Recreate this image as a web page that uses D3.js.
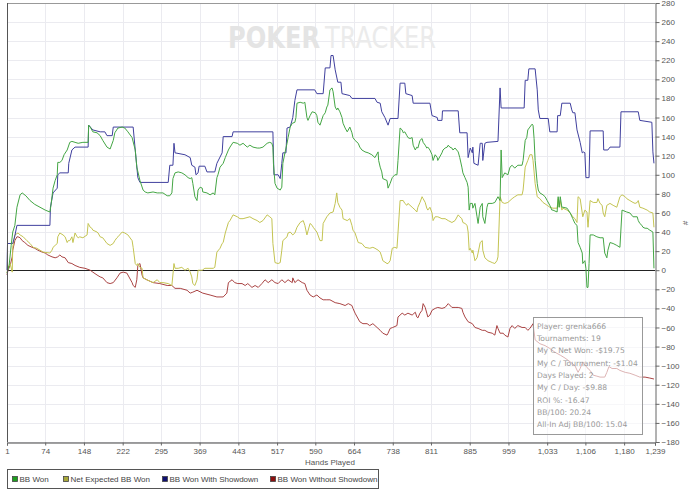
<!DOCTYPE html>
<html><head><meta charset="utf-8">
<script src="https://cdn.jsdelivr.net/npm/d3@7"></script>
<style>html,body{margin:0;padding:0;background:#fff;}svg{display:block;}</style>
</head><body><svg id="c" width="700" height="497"></svg>
<script>
const xTicks = [1,74,148,222,295,369,443,517,590,664,738,811,885,959,1033,1106,1180,1239];
const yTicks = d3.range(-180, 281, 20);
const seriesNames = ["BB Won","Net Expected BB Won","BB Won With Showdown","BB Won Without Showdown"];
const infoLines = ["Player: grenka666","Tournaments: 19","My C Net Won: -$19.75","My C / Tournament: -$1.04","Days Played: 2","My C / Day: -$9.88","ROI %: -16.47","BB/100: 20.24","All-In Adj BB/100: 15.04"];

const bbWon = [[1,-3],[5,5],[9,26],[12,40],[16,47],[20,66],[26,79],[30,81],[37,78],[45,73],[54,69],[64,66],[74,63],[83,61],[85,68],[89,86],[93,94],[97,100],[98,113],[102,113],[106,115],[110,121],[116,126],[121,134],[125,135],[131,134],[137,133],[146,134],[156,134],[157,152],[160,150],[165,145],[173,144],[179,141],[184,136],[192,129],[198,127],[204,136],[207,144],[213,149],[221,150],[226,149],[232,145],[240,139],[246,126],[249,108],[255,94],[261,84],[265,82],[270,81],[280,82],[288,81],[293,81],[299,81],[307,78],[312,78],[316,81],[318,96],[322,102],[328,103],[335,102],[341,100],[347,97],[351,96],[354,97],[356,91],[360,77],[364,73],[366,84],[370,87],[374,86],[375,82],[383,81],[389,79],[395,81],[398,79],[402,97],[404,100],[408,108],[414,112],[418,118],[424,126],[427,129],[433,134],[441,133],[446,131],[452,133],[460,129],[465,131],[471,129],[479,128],[484,128],[490,129],[498,133],[503,134],[507,133],[509,129],[510,112],[513,91],[517,86],[523,84],[526,87],[528,112],[532,123],[536,133],[538,139],[542,150],[546,154],[551,155],[553,160],[555,175],[561,176],[567,175],[570,176],[574,160],[576,157],[580,162],[584,166],[590,165],[593,162],[595,155],[599,152],[605,162],[609,165],[612,171],[614,173],[618,189],[622,191],[624,187],[628,171],[631,168],[633,170],[637,166],[641,160],[643,154],[647,149],[651,145],[656,150],[660,144],[662,139],[666,136],[672,133],[675,129],[679,126],[685,124],[691,123],[698,121],[704,118],[710,124],[711,115],[714,108],[717,103],[719,96],[727,94],[729,86],[733,91],[737,97],[742,100],[746,100],[748,115],[752,149],[756,147],[758,144],[761,145],[765,141],[767,139],[771,138],[775,139],[777,131],[781,126],[784,129],[786,128],[790,136],[794,138],[796,134],[800,131],[803,128],[805,129],[809,126],[813,121],[815,115],[819,121],[823,118],[824,115],[832,123],[834,126],[838,128],[842,129],[844,131],[847,129],[851,128],[853,126],[857,128],[863,124],[866,118],[870,108],[872,102],[876,97],[880,92],[882,87],[884,63],[886,70],[890,70],[891,65],[895,70],[899,56],[901,49],[905,66],[909,70],[910,56],[914,49],[918,66],[920,70],[928,70],[933,71],[939,77],[943,73],[945,126],[947,97],[952,102],[958,100],[962,108],[966,110],[971,107],[977,110],[985,110],[987,115],[991,136],[994,139],[996,147],[1000,150],[1004,153],[1006,152],[1008,138],[1010,115],[1014,91],[1016,84],[1019,81],[1025,79],[1029,77],[1033,73],[1038,68],[1042,63],[1044,63],[1052,61],[1054,77],[1056,66],[1058,77],[1061,66],[1063,66],[1071,65],[1077,60],[1082,54],[1086,49],[1090,47],[1092,29],[1096,24],[1100,18],[1101,7],[1105,10],[1107,2],[1109,-18],[1111,-18],[1113,7],[1115,37],[1121,37],[1128,35],[1134,34],[1140,34],[1143,18],[1147,13],[1149,21],[1153,29],[1159,28],[1166,26],[1172,24],[1176,63],[1185,61],[1191,60],[1197,56],[1205,56],[1207,52],[1210,49],[1214,47],[1216,45],[1220,44],[1224,44],[1229,42],[1235,40],[1237,2]];

const netExpected = [[1,-3],[3,3],[7,7],[11,-2],[12,24],[16,37],[22,39],[26,37],[32,35],[39,31],[45,28],[51,24],[58,23],[70,19],[83,18],[87,21],[89,24],[93,26],[97,28],[98,35],[102,39],[108,37],[112,35],[116,29],[118,31],[121,31],[125,35],[127,29],[131,39],[135,35],[137,34],[140,35],[146,34],[154,37],[156,49],[160,45],[163,44],[165,42],[173,40],[175,39],[179,35],[184,34],[192,28],[198,26],[204,28],[207,31],[211,34],[213,35],[221,40],[226,39],[232,37],[240,31],[242,24],[246,7],[249,5],[251,7],[255,3],[259,2],[261,-8],[268,-10],[280,-13],[288,-10],[293,-13],[299,-13],[309,-14],[316,-16],[320,7],[322,2],[328,2],[335,3],[341,0],[347,2],[351,-2],[354,-7],[356,-14],[360,-16],[364,-10],[366,0],[374,0],[379,2],[395,2],[398,3],[402,19],[408,23],[412,28],[414,29],[418,39],[424,50],[427,52],[433,58],[441,56],[446,54],[452,54],[465,56],[471,54],[479,52],[484,50],[490,52],[498,58],[503,56],[507,54],[509,28],[513,8],[519,7],[523,8],[526,21],[528,31],[536,35],[538,39],[542,40],[547,37],[551,39],[555,45],[561,50],[567,52],[570,47],[574,37],[580,49],[584,47],[586,45],[593,40],[599,31],[603,31],[605,49],[612,56],[618,60],[624,61],[628,70],[631,81],[633,71],[637,66],[641,63],[643,54],[651,52],[656,54],[660,47],[662,42],[666,39],[672,29],[679,28],[685,24],[694,23],[700,24],[704,23],[710,21],[714,19],[717,14],[719,10],[727,7],[729,7],[733,10],[737,23],[742,24],[746,23],[748,39],[752,73],[758,73],[761,70],[765,68],[767,70],[775,66],[781,63],[784,61],[786,66],[790,71],[794,77],[796,75],[800,71],[803,65],[805,63],[809,66],[813,60],[815,52],[819,56],[824,56],[832,54],[838,54],[844,52],[851,50],[857,52],[863,58],[866,56],[870,54],[872,50],[876,49],[880,47],[882,40],[884,21],[886,23],[890,18],[891,21],[895,10],[899,13],[901,18],[905,29],[909,31],[910,21],[914,13],[920,10],[928,8],[933,7],[937,10],[939,14],[943,77],[947,71],[952,70],[958,71],[966,75],[971,77],[977,79],[985,79],[987,84],[991,108],[996,115],[1000,121],[1004,121],[1006,115],[1010,91],[1014,77],[1019,75],[1025,71],[1033,68],[1038,66],[1044,65],[1052,65],[1054,75],[1056,66],[1058,73],[1061,63],[1063,65],[1071,63],[1077,60],[1082,56],[1086,54],[1090,50],[1092,77],[1096,75],[1100,60],[1101,56],[1105,63],[1109,61],[1111,45],[1115,73],[1121,71],[1128,71],[1130,75],[1134,70],[1138,68],[1140,60],[1143,56],[1147,68],[1153,70],[1159,68],[1166,66],[1172,77],[1176,79],[1182,77],[1185,75],[1191,73],[1197,71],[1201,70],[1205,71],[1207,73],[1210,66],[1216,65],[1224,63],[1229,61],[1235,60],[1237,45]];

const bbWithShowdown = [[1,0],[2,28],[12,28],[16,36],[20,47],[83,47],[84,66],[89,81],[97,86],[98,100],[102,102],[118,102],[119,112],[125,126],[131,129],[156,129],[157,152],[165,147],[179,145],[188,145],[192,141],[202,141],[204,150],[242,150],[246,126],[251,97],[255,92],[309,92],[312,110],[318,110],[320,133],[322,123],[341,121],[351,118],[354,110],[360,108],[362,100],[366,102],[368,109],[379,109],[383,103],[398,103],[402,112],[412,123],[414,140],[431,140],[433,145],[509,145],[511,100],[519,100],[523,96],[526,112],[528,123],[534,123],[536,149],[542,150],[547,160],[551,178],[555,189],[589,189],[593,185],[605,185],[609,212],[618,212],[620,225],[624,225],[628,210],[633,197],[639,197],[641,185],[656,183],[660,180],[704,180],[708,176],[714,175],[717,166],[723,160],[729,152],[733,159],[748,159],[752,196],[761,196],[763,185],[775,183],[777,175],[809,175],[813,162],[823,160],[824,157],[832,157],[833,167],[863,167],[866,144],[880,144],[882,118],[886,128],[890,123],[891,129],[893,112],[901,110],[905,133],[909,133],[910,115],[914,133],[918,134],[939,135],[943,191],[945,170],[989,170],[991,199],[996,199],[998,211],[1010,211],[1014,189],[1016,168],[1019,159],[1035,159],[1038,145],[1052,145],[1053,162],[1058,162],[1061,175],[1077,175],[1080,168],[1082,165],[1086,165],[1090,147],[1096,134],[1100,123],[1103,124],[1105,123],[1107,97],[1113,97],[1115,146],[1140,146],[1141,126],[1149,126],[1153,129],[1172,129],[1174,166],[1207,166],[1210,157],[1233,155],[1235,124],[1237,112]];

const bbWithoutShowdown = [[1,-5],[3,0],[7,5],[11,14],[12,21],[16,31],[20,35],[22,35],[26,34],[30,31],[35,29],[41,26],[49,24],[54,23],[60,21],[68,19],[74,18],[79,16],[87,14],[93,13],[98,14],[102,16],[106,14],[112,13],[118,8],[125,7],[131,5],[140,3],[150,2],[160,0],[165,-2],[173,-5],[179,-7],[184,-8],[192,-13],[198,-14],[204,-13],[211,-8],[217,-3],[223,-2],[230,-3],[232,-5],[240,-13],[242,-16],[246,-18],[249,-10],[251,5],[255,7],[259,-5],[261,-8],[268,-10],[280,-13],[293,-14],[307,-16],[316,-16],[322,-19],[332,-19],[345,-21],[351,-24],[356,-23],[364,-21],[375,-24],[389,-26],[402,-28],[414,-28],[421,-24],[424,-13],[431,-10],[436,-13],[442,-14],[450,-14],[456,-16],[461,-14],[469,-18],[475,-16],[481,-18],[488,-14],[494,-10],[500,-13],[507,-10],[513,-13],[519,-14],[526,-10],[532,-13],[538,-10],[546,-13],[547,-8],[551,-13],[557,-10],[565,-13],[570,-14],[574,-21],[580,-26],[586,-28],[593,-26],[599,-29],[605,-31],[612,-31],[618,-31],[628,-34],[637,-35],[647,-37],[653,-35],[660,-37],[662,-40],[666,-45],[670,-49],[675,-54],[681,-56],[689,-56],[694,-58],[700,-56],[708,-60],[714,-63],[719,-66],[727,-68],[729,-66],[733,-61],[738,-60],[746,-58],[748,-49],[756,-45],[761,-47],[767,-45],[775,-47],[781,-44],[784,-49],[786,-50],[790,-45],[794,-42],[796,-35],[800,-39],[803,-45],[805,-49],[809,-47],[813,-42],[819,-40],[824,-39],[832,-40],[838,-39],[844,-35],[851,-39],[857,-39],[863,-39],[870,-40],[872,-44],[876,-49],[882,-54],[890,-56],[895,-60],[901,-61],[909,-63],[914,-63],[920,-65],[928,-66],[933,-68],[937,-58],[939,-61],[943,-66],[949,-66],[952,-68],[958,-70],[962,-61],[966,-58],[971,-61],[977,-58],[985,-60],[991,-60],[996,-63],[1000,-61],[1006,-56],[1010,-73],[1019,-77],[1029,-79],[1038,-82],[1048,-86],[1058,-89],[1067,-92],[1077,-96],[1086,-100],[1092,-107],[1096,-103],[1101,-96],[1109,-102],[1115,-105],[1121,-110],[1128,-111],[1134,-112],[1143,-112],[1147,-107],[1151,-101],[1157,-103],[1166,-103],[1172,-105],[1182,-107],[1191,-108],[1201,-110],[1210,-112],[1220,-112],[1229,-113],[1237,-114]];

const series = [bbWon, netExpected, bbWithShowdown, bbWithoutShowdown];
const lineColors = ["#44a644","#c4c452","#40409e","#aa4444"];
const swatchColors = ["#1e9e1e","#a8a83a","#101070","#8c1010"];

const svg = d3.select("#c");
const L=7, R=655, T=3, B=442;
const x = d3.scaleLinear().domain([1,1239]).range([L,R]);
const y = d3.scaleLinear().domain([-180,280]).range([B,T]);
const font = "'Liberation Sans', Arial, sans-serif";
const infoFont = "'DejaVu Sans', Verdana, sans-serif";

// gridlines
const g = svg.append("g").attr("shape-rendering","crispEdges");
g.selectAll("line.hg").data(yTicks).join("line")
  .attr("x1",L).attr("x2",R).attr("y1",d=>Math.round(y(d))+0.5).attr("y2",d=>Math.round(y(d))+0.5)
  .attr("stroke","#ebebf0").attr("stroke-width",1);
g.selectAll("line.vg").data(xTicks.slice(1,-1)).join("line")
  .attr("y1",T).attr("y2",B).attr("x1",d=>Math.round(x(d))+0.5).attr("x2",d=>Math.round(x(d))+0.5)
  .attr("stroke","#ebebf0").attr("stroke-width",1);

// watermark
const wm = svg.append("g");
wm.append("text").attr("x",228).attr("y",48).attr("font-family","'DejaVu Sans Condensed','DejaVu Sans',sans-serif")
  .attr("font-weight","bold").attr("font-size",30).attr("fill","#e4e4e4")
  .attr("textLength",92).attr("lengthAdjust","spacingAndGlyphs").text("POKER");
wm.append("text").attr("x",325).attr("y",48).attr("font-family","'DejaVu Sans Condensed','DejaVu Sans',sans-serif")
  .attr("font-weight","normal").attr("font-size",30).attr("fill","#ebebeb")
  .attr("textLength",111).attr("lengthAdjust","spacingAndGlyphs").text("TRACKER");

// zero line
svg.append("line").attr("x1",L).attr("x2",R).attr("y1",Math.round(y(0))+0.5).attr("y2",Math.round(y(0))+0.5)
  .attr("stroke","#222").attr("stroke-width",1).attr("shape-rendering","crispEdges");

// series lines
const line = d3.line().x(d=>x(d[0])).y(d=>y(d[1]));
const order = [3,1,2,0];
order.forEach(i=>{
  svg.append("path").datum(series[i]).attr("d",line).attr("fill","none")
    .attr("stroke",lineColors[i]).attr("stroke-width",1).attr("stroke-linejoin","round");
});

// frame
svg.append("line").attr("x1",L).attr("x2",R).attr("y1",T+0.5).attr("y2",T+0.5).attr("stroke","#999").attr("shape-rendering","crispEdges");
svg.append("line").attr("x1",L+0.5).attr("x2",L+0.5).attr("y1",T).attr("y2",B).attr("stroke","#555").attr("shape-rendering","crispEdges");

// right axis
const yAxis = d3.axisRight(y).tickValues(yTicks).tickSize(4).tickPadding(2).tickFormat(d3.format("d"));
const ya = svg.append("g").attr("transform",`translate(${R+0.5},0)`).call(yAxis);
ya.select(".domain").attr("stroke","#666");
ya.selectAll(".tick line").attr("stroke","#666");
ya.selectAll("text").attr("font-family",font).attr("font-size",8).attr("fill","#555");
svg.append("text").attr("transform","translate(683,223) rotate(90)").attr("text-anchor","middle")
  .attr("font-family",font).attr("font-size",8).attr("fill","#555").text("#");

// bottom axis
const xAxis = d3.axisBottom(x).tickValues(xTicks).tickSize(3).tickPadding(3).tickFormat(d3.format(","));
const xa = svg.append("g").attr("transform",`translate(0,${B+0.5})`).call(xAxis);
xa.select(".domain").attr("stroke","#444");
xa.selectAll(".tick line").attr("stroke","#666");
xa.selectAll("text").attr("font-family",font).attr("font-size",8).attr("fill","#555");
svg.append("text").attr("x",330).attr("y",465).attr("text-anchor","middle")
  .attr("font-family",font).attr("font-size",8).attr("fill","#555").text("Hands Played");

// legend
const lg = svg.append("g");
lg.append("rect").attr("x",7.5).attr("y",469.5).attr("width",371).attr("height",19)
  .attr("fill","#fff").attr("stroke","#555");
const legX = [12,63,162,270];
seriesNames.forEach((n,i)=>{
  lg.append("rect").attr("x",legX[i]+0.5).attr("y",476.5).attr("width",5).attr("height",5)
    .attr("fill",swatchColors[i]).attr("stroke","#444").attr("stroke-width",0.8);
  lg.append("text").attr("x",legX[i]+7.5).attr("y",482).attr("font-family",font).attr("font-size",8)
    .attr("fill","#444").text(n);
});

// info box
const ib = svg.append("g");
ib.append("rect").attr("x",533.5).attr("y",317.5).attr("width",109).attr("height",117)
  .attr("fill","#fff").attr("fill-opacity",0.6).attr("stroke","#999");
infoLines.forEach((t,i)=>{
  ib.append("text").attr("x",537).attr("y",328.5+i*12.37).attr("font-family",infoFont)
    .attr("font-size",7.6).attr("fill","#999").text(t);
});
</script></body></html>
